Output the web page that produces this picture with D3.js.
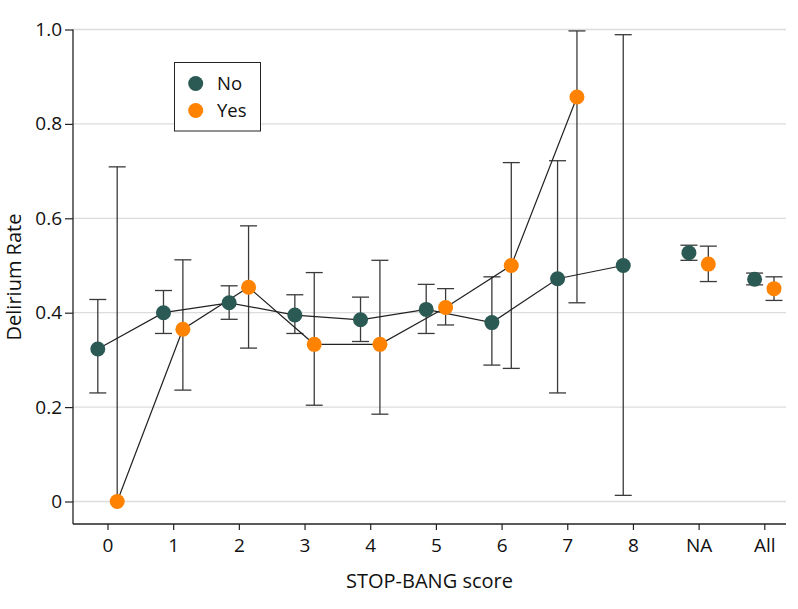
<!DOCTYPE html>
<html><head><meta charset="utf-8">
<script src="https://cdn.jsdelivr.net/npm/d3@7"></script>
<style>body{margin:0;background:#fff}svg{display:block}text{font-family:"Open Sans",sans-serif;fill:#111}</style>
</head><body><svg id="c" width="798" height="609"></svg>
<script>
const categories = ["0","1","2","3","4","5","6","7","8","NA","All"];
const noRate  = [0.323,0.400,0.421,0.395,0.385,0.407,0.379,0.472,0.500,0.527,0.471];
const noLow   = [0.230,0.356,0.386,0.356,0.339,0.356,0.289,0.230,0.013,0.511,0.459];
const noHigh  = [0.428,0.447,0.457,0.438,0.433,0.460,0.476,0.722,0.989,0.543,0.484];
const yesRate = [0.000,0.365,0.454,0.333,0.333,0.411,0.500,0.857,null,0.503,0.451];
const yesLow  = [0.000,0.236,0.325,0.204,0.185,0.374,0.282,0.421,null,0.466,0.426];
const yesHigh = [0.709,0.512,0.584,0.485,0.511,0.451,0.718,0.997,null,0.541,0.476];
const yTicks = [0,0.2,0.4,0.6,0.8,1.0];
const lineCats = 9; // 0..8 connected by lines

const FS = 19, FT = 20, FL = 18.5;
const svg = d3.select("#c");
const left = 73, right = 786, bottom = 524;
const x = d3.scaleLinear().domain([0,10]).range([107.5,764.3]);
const y = d3.scaleLinear().domain([0,1]).range([501.5,29.5]);
const dodge = 9.7;
const colors = {No:"#2b5954", Yes:"#ff8200"};

svg.append("g").selectAll("line").data(yTicks).join("line")
  .attr("x1",left).attr("x2",right).attr("y1",d=>y(d)).attr("y2",d=>y(d))
  .attr("stroke","#dcdcdc").attr("stroke-width",1.3);

const yAxis = d3.axisLeft(y).tickValues(yTicks).tickSize(8).tickPadding(3)
  .tickFormat(d=> d===0 ? "0" : d3.format(".1f")(d));
const gy = svg.append("g").attr("transform",`translate(${left},0)`).call(yAxis);
gy.attr("font-family",null).attr("font-size",null);
gy.select(".domain").attr("d",`M0,${bottom}V${y(1)}`).attr("stroke","#222").attr("stroke-width",1.3);
gy.selectAll(".tick line").attr("stroke","#222").attr("stroke-width",1.2);
gy.selectAll(".tick text").attr("font-size",FS);

const xAxis = d3.axisBottom(x).tickValues(d3.range(categories.length)).tickSize(6).tickPadding(9)
  .tickFormat(i=>categories[i]);
const gx = svg.append("g").attr("transform",`translate(0,${bottom})`).call(xAxis);
gx.attr("font-family",null).attr("font-size",null);
gx.select(".domain").attr("d",`M${left},0H${right}`).attr("stroke","#222").attr("stroke-width",1.3);
gx.selectAll(".tick line").attr("stroke","#222").attr("stroke-width",1.2);
gx.selectAll(".tick text").attr("font-size",FS);

svg.append("text").attr("x",429.5).attr("y",588).attr("text-anchor","middle").attr("font-size",FT).text("STOP-BANG score");
svg.append("text").attr("transform","translate(21,277) rotate(-90)").attr("text-anchor","middle").attr("font-size",FT).text("Delirium Rate");

function series(rate, low, high, off){
  const pts = rate.map((v,i)=>({i,v,lo:low[i],hi:high[i]})).filter(d=>d.v!==null);
  const g = svg.append("g");
  const eb = g.selectAll("g.eb").data(pts).join("g");
  eb.append("line").attr("x1",d=>x(d.i)+off).attr("x2",d=>x(d.i)+off)
    .attr("y1",d=>y(d.lo)).attr("y2",d=>y(d.hi)).attr("stroke","#3a3a3a").attr("stroke-width",1.3);
  eb.append("line").attr("x1",d=>x(d.i)+off-8.5).attr("x2",d=>x(d.i)+off+8.5)
    .attr("y1",d=>y(d.hi)).attr("y2",d=>y(d.hi)).attr("stroke","#3a3a3a").attr("stroke-width",1.3);
  eb.filter(d=>d.lo!==d.v).append("line").attr("x1",d=>x(d.i)+off-8.5).attr("x2",d=>x(d.i)+off+8.5)
    .attr("y1",d=>y(d.lo)).attr("y2",d=>y(d.lo)).attr("stroke","#3a3a3a").attr("stroke-width",1.3);
  return pts;
}
const noPts = series(noRate,noLow,noHigh,-dodge);
const yesPts = series(yesRate,yesLow,yesHigh,dodge);

const line = off => d3.line().x(d=>x(d.i)+off).y(d=>y(d.v));
svg.append("path").datum(noPts.filter(d=>d.i<lineCats)).attr("d",line(-dodge)).attr("fill","none").attr("stroke","#222").attr("stroke-width",1.2);
svg.append("path").datum(yesPts.filter(d=>d.i<lineCats)).attr("d",line(dodge)).attr("fill","none").attr("stroke","#222").attr("stroke-width",1.2);

svg.append("g").selectAll("circle").data(noPts).join("circle")
  .attr("cx",d=>x(d.i)-dodge).attr("cy",d=>y(d.v)).attr("r",7.5).attr("fill",colors.No);
svg.append("g").selectAll("circle").data(yesPts).join("circle")
  .attr("cx",d=>x(d.i)+dodge).attr("cy",d=>y(d.v)).attr("r",7.5).attr("fill",colors.Yes);

const lg = svg.append("g");
lg.append("rect").attr("x",174.5).attr("y",62.5).attr("width",86).attr("height",68.5)
  .attr("fill","#fff").attr("stroke","#222").attr("stroke-width",1);
[["No",83.5],["Yes",110.5]].forEach(([k,cy])=>{
  lg.append("circle").attr("cx",195.7).attr("cy",cy).attr("r",7.5).attr("fill",colors[k]);
  lg.append("text").attr("x",217).attr("y",cy+6.5).attr("font-size",FL).text(k);
});
</script></body></html>
